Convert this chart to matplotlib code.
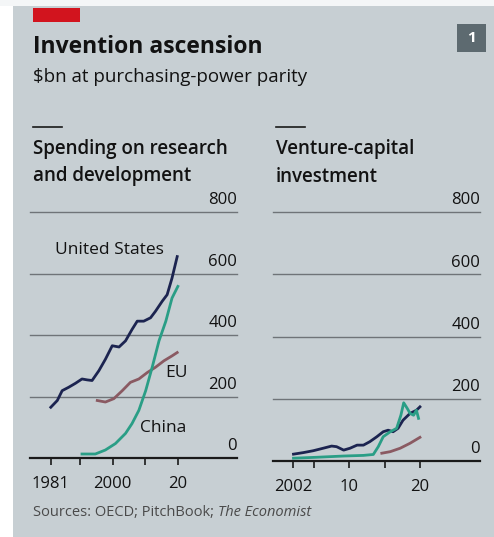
import matplotlib
matplotlib.use('Agg')
import matplotlib.pyplot as plt
from matplotlib.patches import Rectangle

plt.rcParams['font.family'] = ['Open Sans', 'DejaVu Sans']

# R&D spending, $bn PPP
us_rd_years = [1981, 1983, 1984.5, 1986.5, 1988.6, 1990.6, 1992.2, 1993.7, 1995.8, 1997.8,
               1999.9, 2002, 2004, 2006, 2007.6, 2009.6, 2011.7, 2013.2, 2015.3, 2016.8,
               2018.3, 2019.9]
us_rd = [165, 187, 219, 230, 243, 257, 254, 252, 284, 321, 365, 361, 381, 418, 445, 445,
         456, 477, 510, 531, 585, 655]
eu_rd_years = [1995.3, 1997.8, 2000.4, 2003, 2005.5, 2008.1, 2010.7, 2013.2, 2015.8, 2018.3, 2019.9]
eu_rd = [187, 182, 193, 219, 246, 257, 278, 295, 316, 332, 343]
cn_rd_years = [1990.6, 1994.7, 1997.8, 2000.9, 2004, 2006, 2008.1, 2010.2, 2012.2, 2014.3,
               2016.4, 2018.3, 2020.1]
cn_rd = [13, 13, 26, 47, 80, 112, 155, 219, 295, 381, 445, 520, 558]

# Venture-capital investment, $bn PPP
us_vc_years = [2002.1, 2003.5, 2004.9, 2006.3, 2007.5, 2008.2, 2009.2, 2010.1, 2011.1, 2012,
               2012.9, 2013.9, 2014.8, 2015.5, 2016.2, 2016.9, 2017.6, 2018.6, 2019.5, 2020]
us_vc = [22, 27, 33, 41, 48, 46, 35, 41, 51, 51, 62, 78, 94, 99, 94, 105, 131, 153, 163, 174]
cn_vc_years = [2002.1, 2005.4, 2009.2, 2012, 2013.4, 2014.1, 2014.8, 2015.8, 2016.7, 2017.3,
               2017.7, 2018.2, 2018.6, 2019.1, 2019.5, 2019.8]
cn_vc = [9, 12, 16, 18, 21, 46, 78, 94, 105, 147, 187, 169, 153, 147, 163, 137]
eu_vc_years = [2014.6, 2015.8, 2017.2, 2018.6, 2020]
eu_vc = [25, 30, 41, 57, 76]

yticks = [0, 200, 400, 600, 800]
rd_ticks = [1981, 1990, 2000, 2010, 2020]
rd_labels = ['1981', '', '2000', '', '20']
vc_ticks = [2002, 2005, 2010, 2015, 2020]
vc_labels = ['2002', '', '10', '', '20']

bg = '#c7cfd3'
navy = '#1c2450'
teal = '#2a9e86'
mauve = '#8a5a62'
ink = '#121212'
W, H = 494, 537

fig = plt.figure(figsize=(W / 100, H / 100), dpi=100)
fig.patch.set_facecolor(bg)
# white strips at left and top of the scan
fig.patches.append(Rectangle((0, 0), 13 / W, 1, transform=fig.transFigure,
                             facecolor='white', edgecolor='none', zorder=-1))
fig.patches.append(Rectangle((0, 1 - 6 / H), 1, 6 / H, transform=fig.transFigure,
                             facecolor='#f4f6f7', edgecolor='none', zorder=-1))
# red tag and box
fig.patches.append(Rectangle((33 / W, 1 - 22 / H), 47 / W, 14 / H, transform=fig.transFigure,
                             facecolor='#d2141e', edgecolor='none'))
fig.patches.append(Rectangle((457 / W, 1 - 52 / H), 29 / W, 28 / H, transform=fig.transFigure,
                             facecolor='#5d6a70', edgecolor='none'))
fig.text(471.5 / W, 1 - 38 / H, '1', color='white', fontsize=11, fontweight='bold',
         ha='center', va='center')

fig.text(33 / W, 1 - 47 / H, 'Invention ascension', fontsize=16.5, fontweight='bold',
         color=ink, va='center')
fig.text(33 / W, 1 - 77 / H, '$bn at purchasing-power parity', fontsize=13.5,
         color=ink, va='center')
src = fig.text(33 / W, 1 - 513 / H, 'Sources: OECD; PitchBook; ', fontsize=10.5,
               color='#4a4a4a', va='center')
fig.canvas.draw()
x_end = src.get_window_extent().x1 / W
fig.text(x_end, 1 - 513 / H, 'The Economist', fontsize=10.5, color='#4a4a4a', va='center',
         style='italic')


def panel(left, bottom_px, top_px, xlim, ticks, labels, title):
    ax = fig.add_axes([left / W, 1 - bottom_px / H, 207 / W, (bottom_px - top_px) / H])
    ax.set_facecolor('none')
    ax.set_xlim(xlim)
    ax.set_ylim(0, 800)
    for s in ['top', 'right', 'left']:
        ax.spines[s].set_visible(False)
    ax.spines['bottom'].set_linewidth(1.6)
    ax.spines['bottom'].set_color('#1a1a1a')
    ax.set_yticks([])
    for v in yticks[1:]:
        ax.axhline(v, color='#6f7478', lw=1.0, zorder=1, clip_on=False)
    for v in yticks:
        ax.text(1.0, v + 12, str(v), transform=ax.get_yaxis_transform(), ha='right',
                va='bottom', fontsize=12, color=ink)
    ax.set_xticks(ticks)
    ax.set_xticklabels(labels, fontsize=12, color=ink)
    ax.tick_params(axis='x', length=5, width=1.2, color='#1a1a1a', pad=8)
    fig.lines.append(plt.Line2D([(left + 3) / W, (left + 32) / W], [1 - 127 / H, 1 - 127 / H],
                                transform=fig.transFigure, color='#1a1a1a', lw=1.2))
    fig.text((left + 3) / W, 1 - 139 / H, title, fontsize=13.5, color=ink,
             va='top', linespacing=1.5, fontweight='semibold')
    return ax


ax1 = panel(30, 458, 212, (1974.6, 2038.3), rd_ticks, rd_labels,
            'Spending on research\nand development')
ax1.plot(us_rd_years, us_rd, color=navy, lw=2.0, zorder=3)
ax1.plot(eu_rd_years, eu_rd, color=mauve, lw=2.0, zorder=3)
ax1.plot(cn_rd_years, cn_rd, color=teal, lw=2.0, zorder=4)
ax1.text(1982.2, 677, 'United States', fontsize=12.5, color=ink, va='center')
ax1.text(2016.2, 277, 'EU', fontsize=12.5, color=ink, va='center')
ax1.text(2008.4, 97, 'China', fontsize=12.5, color=ink, va='center')

ax2 = panel(273, 461, 212, (1999.2, 2028.5), vc_ticks, vc_labels,
            'Venture-capital\ninvestment')
ax2.plot(eu_vc_years, eu_vc, color=mauve, lw=2.0, zorder=3)
ax2.plot(us_vc_years, us_vc, color=navy, lw=2.0, zorder=3)
ax2.plot(cn_vc_years, cn_vc, color=teal, lw=2.0, zorder=4)

fig.savefig('out.png', dpi=100, facecolor=bg)
